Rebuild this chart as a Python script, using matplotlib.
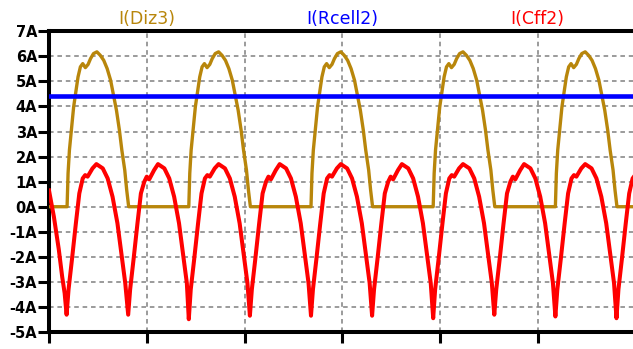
import matplotlib
matplotlib.use('Agg')
import matplotlib.pyplot as plt

# time in ms, current in A
t_cff = [150.0, 150.5, 151.0, 151.35, 151.6,
         151.8, 152.0, 152.35, 152.75, 153.1, 153.45, 153.7, 153.95, 154.45, 154.85, 155.5, 156.0, 156.5, 157.0, 157.45, 157.8,
         158.1, 158.3, 158.65, 159.05, 159.4, 159.75, 160.0, 160.25, 160.75, 161.15, 161.8, 162.3, 162.8, 163.3, 163.75, 164.1,
         164.3, 164.5, 164.85, 165.25, 165.6, 165.95, 166.2, 166.45, 166.95, 167.35, 168.0, 168.5, 169.0, 169.5, 169.95, 170.3,
         170.55, 170.75, 171.1, 171.5, 171.85, 172.2, 172.45, 172.7, 173.2, 173.6, 174.25, 174.75, 175.25, 175.75, 176.2, 176.55,
         176.8, 177.0, 177.35, 177.75, 178.1, 178.45, 178.7, 178.95, 179.45, 179.85, 180.5, 181.0, 181.5, 182.0, 182.45, 182.8,
         183.05, 183.25, 183.6, 184.0, 184.35, 184.7, 184.95, 185.2, 185.7, 186.1, 186.75, 187.25, 187.75, 188.25, 188.7, 189.05,
         189.3, 189.5, 189.85, 190.25, 190.6, 190.95, 191.2, 191.45, 191.95, 192.35, 193.0, 193.5, 194.0, 194.5, 194.95, 195.3,
         195.55, 195.75, 196.1, 196.5, 196.85, 197.2, 197.45, 197.7, 198.2, 198.6, 199.25, 199.75, 200.25, 200.75, 201.2, 201.55,
         201.8, 202.0, 202.35, 202.75, 203.1, 203.45, 203.7, 203.95, 204.45, 204.85, 205.5, 206.0, 206.5, 207.0, 207.45, 207.8,
         208.05, 208.25, 208.6, 209.0, 209.35, 209.7, 209.95]
i_cff = [0.65, -0.4, -1.7, -2.8, -3.45,
         -4.31, -3.3, -2.1, -0.66, 0.53, 1.13, 1.26, 1.2, 1.53, 1.7, 1.53, 1.13, 0.4, -0.66, -1.99, -3.05,
         -4.31, -3.3, -2.1, -0.66, 0.53, 1.0, 1.2, 1.09, 1.46, 1.7, 1.53, 1.13, 0.4, -0.66, -1.99, -3.05,
         -4.49, -3.3, -2.1, -0.66, 0.53, 1.13, 1.26, 1.2, 1.53, 1.7, 1.53, 1.13, 0.4, -0.66, -1.99, -3.05,
         -4.35, -3.3, -2.1, -0.66, 0.53, 1.0, 1.2, 1.09, 1.46, 1.7, 1.53, 1.13, 0.4, -0.66, -1.99, -3.05,
         -4.35, -3.3, -2.1, -0.66, 0.53, 1.13, 1.26, 1.2, 1.53, 1.7, 1.53, 1.13, 0.4, -0.66, -1.99, -3.05,
         -4.35, -3.3, -2.1, -0.66, 0.53, 1.0, 1.2, 1.09, 1.46, 1.7, 1.53, 1.13, 0.4, -0.66, -1.99, -3.05,
         -4.45, -3.3, -2.1, -0.66, 0.53, 1.13, 1.26, 1.2, 1.53, 1.7, 1.53, 1.13, 0.4, -0.66, -1.99, -3.05,
         -4.31, -3.3, -2.1, -0.66, 0.53, 1.0, 1.2, 1.09, 1.46, 1.7, 1.53, 1.13, 0.4, -0.66, -1.99, -3.05,
         -4.38, -3.3, -2.1, -0.66, 0.53, 1.13, 1.26, 1.2, 1.53, 1.7, 1.53, 1.13, 0.4, -0.66, -1.99, -3.05,
         -4.45, -3.3, -2.1, -0.66, 0.53, 1.13, 1.26]

t_diz = [150.0,
         151.85, 151.95, 152.09, 152.29, 152.52, 152.77, 152.97, 153.21, 153.45, 153.72, 154.0, 154.25, 154.55,
         154.9, 155.25, 155.6, 155.95, 156.3, 156.6, 156.9, 157.2, 157.45, 157.75, 157.95, 158.15,
         164.3, 164.4, 164.54, 164.74, 164.97, 165.22, 165.42, 165.66, 165.9, 166.17, 166.45, 166.7, 167.0,
         167.35, 167.7, 168.05, 168.4, 168.75, 169.05, 169.35, 169.65, 169.9, 170.2, 170.4, 170.6,
         176.8, 176.9, 177.04, 177.24, 177.47, 177.72, 177.92, 178.16, 178.4, 178.67, 178.95, 179.2, 179.5,
         179.85, 180.2, 180.55, 180.9, 181.25, 181.55, 181.85, 182.15, 182.4, 182.7, 182.9, 183.1,
         189.3, 189.4, 189.54, 189.74, 189.97, 190.22, 190.42, 190.66, 190.9, 191.17, 191.45, 191.7, 192.0,
         192.35, 192.7, 193.05, 193.4, 193.75, 194.05, 194.35, 194.65, 194.9, 195.2, 195.4, 195.6,
         201.8, 201.9, 202.04, 202.24, 202.47, 202.72, 202.92, 203.16, 203.4, 203.67, 203.95, 204.2, 204.5,
         204.85, 205.2, 205.55, 205.9, 206.25, 206.55, 206.85, 207.15, 207.4, 207.7, 207.9, 208.1,
         209.95]
i_diz = [0.0,
         0.0, 1.33, 2.26, 3.06, 3.98, 4.65, 5.18, 5.58, 5.71, 5.55, 5.68, 5.91, 6.11,
         6.18, 6.04, 5.84, 5.51, 5.05, 4.45, 3.85, 3.06, 2.26, 1.46, 0.66, 0.0,
         0.0, 1.33, 2.26, 3.06, 3.98, 4.65, 5.18, 5.58, 5.71, 5.55, 5.68, 5.91, 6.11,
         6.18, 6.04, 5.84, 5.51, 5.05, 4.45, 3.85, 3.06, 2.26, 1.46, 0.66, 0.0,
         0.0, 1.33, 2.26, 3.06, 3.98, 4.65, 5.18, 5.58, 5.71, 5.55, 5.68, 5.91, 6.11,
         6.18, 6.04, 5.84, 5.51, 5.05, 4.45, 3.85, 3.06, 2.26, 1.46, 0.66, 0.0,
         0.0, 1.33, 2.26, 3.06, 3.98, 4.65, 5.18, 5.58, 5.71, 5.55, 5.68, 5.91, 6.11,
         6.18, 6.04, 5.84, 5.51, 5.05, 4.45, 3.85, 3.06, 2.26, 1.46, 0.66, 0.0,
         0.0, 1.33, 2.26, 3.06, 3.98, 4.65, 5.18, 5.58, 5.71, 5.55, 5.68, 5.91, 6.11,
         6.18, 6.04, 5.84, 5.51, 5.05, 4.45, 3.85, 3.06, 2.26, 1.46, 0.66, 0.0,
         0.0]

t_rcell = [150.0, 209.95]
i_rcell = [4.4, 4.4]

xticks = [150, 160, 170, 180, 190, 200]
xlabels = ['150ms', '160ms', '170ms', '180ms', '190ms', '200ms']
yticks = list(range(-5, 8))
ylabels = [str(v) + 'A' for v in yticks]

gold = '#B8860B'

fig = plt.figure(figsize=(6.33, 3.49), dpi=100)
ax = fig.add_axes([49 / 633, 17 / 349, (633 - 49) / 633, 300.7 / 349])

ax.plot(t_diz, i_diz, color=gold, lw=2.4, zorder=3)
ax.plot(t_rcell, i_rcell, color='#0000FF', lw=3.3, zorder=4)
ax.plot(t_cff, i_cff, color='#FF0000', lw=2.9, zorder=5)

ax.set_xlim(150, 209.74)
ax.set_ylim(-5, 7)
ax.set_xticks(xticks)
ax.set_xticklabels(xlabels)
ax.set_yticks(yticks)
ax.set_yticklabels(ylabels)

ax.grid(True, color='#808080', lw=1.1, linestyle=(0, (3, 2.5)))
ax.set_axisbelow(True)

for s in ['left', 'top', 'bottom']:
    ax.spines[s].set_linewidth(2.9)
    ax.spines[s].set_color('black')
ax.spines['right'].set_visible(False)

ax.tick_params(axis='both', direction='out', length=8, width=2.2, color='black')
ax.tick_params(axis='y', pad=0.5, labelsize=10.5)
# bottom labels sit mostly below the image edge, as in the screenshot
ax.tick_params(axis='x', pad=4.5, labelsize=10.5, labelcolor='#555555')
for lab in ax.get_yticklabels() + ax.get_xticklabels():
    lab.set_fontweight('bold')

fig.text(146.7 / 633, 1 - 19 / 349, 'I(Diz3)', color=gold, fontsize=12.5, ha='center', va='center')
fig.text(342.2 / 633, 1 - 19 / 349, 'I(Rcell2)', color='#0000FF', fontsize=12.5, ha='center', va='center')
fig.text(537.7 / 633, 1 - 19 / 349, 'I(Cff2)', color='#FF0000', fontsize=12.5, ha='center', va='center')

fig.savefig('out.png', dpi=100)
